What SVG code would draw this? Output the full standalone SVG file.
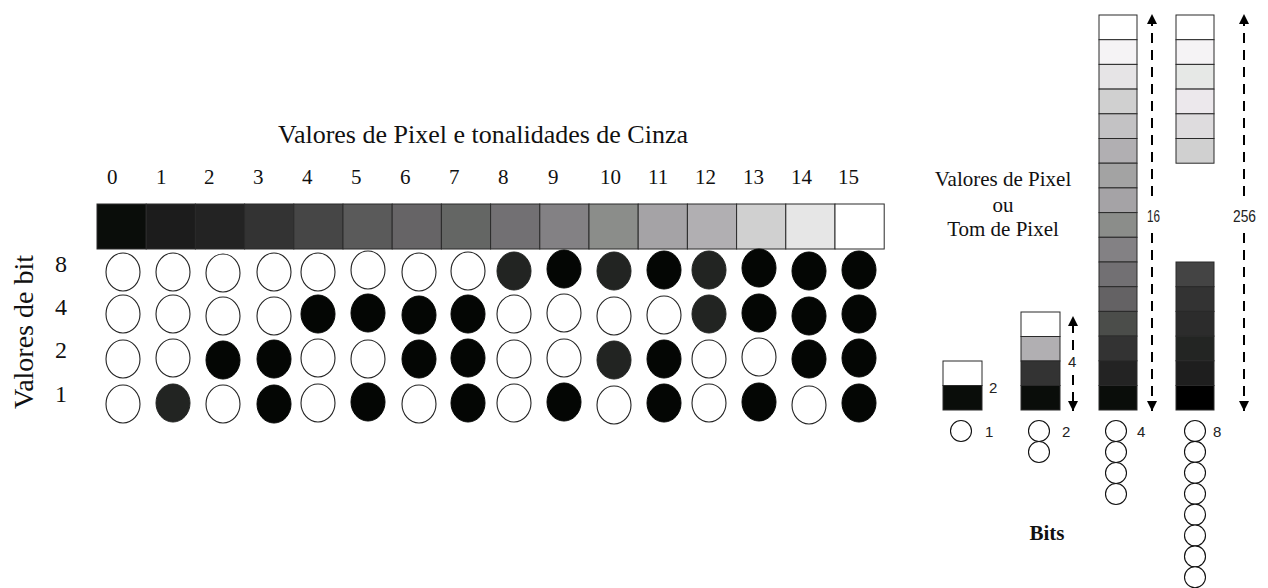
<svg xmlns="http://www.w3.org/2000/svg" width="1268" height="588" viewBox="0 0 1268 588">
<style>
.serif{font-family:"Liberation Serif","Times New Roman",serif;fill:#111}
.sans{font-family:"Liberation Sans",Arial,sans-serif;fill:#222;font-size:15px}
.cell{stroke:#2a2a2a;stroke-width:1}
.o{fill:#fff;stroke:#222;stroke-width:1.1}
.b{fill:#040604;stroke:#040604;stroke-width:1}
.g{fill:#222422;stroke:#222422;stroke-width:1}
.bit{fill:#fff;stroke:#111;stroke-width:1.1}
.dash{stroke:#000;stroke-width:2;stroke-dasharray:10 7;fill:none}
</style>
<defs>
<marker id="ah" markerUnits="userSpaceOnUse" markerWidth="10" markerHeight="10" refX="10" refY="5" orient="auto">
<path d="M0,0 L10,5 L0,10 z" fill="#000"/>
</marker>
</defs>
<rect width="1268" height="588" fill="#fff"/>

<g id="title">
<text class="serif" x="278" y="143" font-size="26" textLength="410" lengthAdjust="spacingAndGlyphs">Valores de Pixel e tonalidades de Cinza</text>
</g>

<g id="pixel-values" class="serif" font-size="21">
<text x="107" y="184">0</text>
<text x="156" y="184">1</text>
<text x="204" y="184">2</text>
<text x="253" y="184">3</text>
<text x="302" y="184">4</text>
<text x="351" y="184">5</text>
<text x="400" y="184">6</text>
<text x="449" y="184">7</text>
<text x="498" y="184">8</text>
<text x="548" y="184">9</text>
<text x="600" y="184">10</text>
<text x="648" y="184">11</text>
<text x="695" y="184">12</text>
<text x="743" y="184">13</text>
<text x="791" y="184">14</text>
<text x="838" y="184">15</text>
</g>

<g id="gray-bar" class="cell">
<rect x="97" y="204" width="49.2" height="45" fill="#0a0d0a"/>
<rect x="146.2" y="204" width="49.2" height="45" fill="#1c1c1c"/>
<rect x="195.4" y="204" width="49.2" height="45" fill="#232323"/>
<rect x="244.6" y="204" width="49.2" height="45" fill="#333333"/>
<rect x="293.8" y="204" width="49.2" height="45" fill="#464646"/>
<rect x="343" y="204" width="49.2" height="45" fill="#5a5a5a"/>
<rect x="392.2" y="204" width="49.2" height="45" fill="#666466"/>
<rect x="441.4" y="204" width="49.2" height="45" fill="#646664"/>
<rect x="490.6" y="204" width="49.2" height="45" fill="#727073"/>
<rect x="539.8" y="204" width="49.2" height="45" fill="#838184"/>
<rect x="589" y="204" width="49.2" height="45" fill="#8b8d8a"/>
<rect x="638.2" y="204" width="49.2" height="45" fill="#a5a3a6"/>
<rect x="687.4" y="204" width="49.2" height="45" fill="#b1afb2"/>
<rect x="736.6" y="204" width="49.2" height="45" fill="#d0d0d0"/>
<rect x="785.8" y="204" width="49.2" height="45" fill="#e6e6e6"/>
<rect x="835" y="204" width="49.2" height="45" fill="#ffffff"/>
</g>

<g id="axis-label">
<text class="serif" font-size="28" text-anchor="middle" transform="translate(33,332) rotate(-90)">Valores de bit</text>
</g>

<g id="bit-values" class="serif" font-size="24">
<text x="55" y="272">8</text>
<text x="55" y="315">4</text>
<text x="55" y="358">2</text>
<text x="55" y="402">1</text>
</g>

<g id="bit-grid">
<!-- row 8 -->
<ellipse class="o" cx="123" cy="272" rx="17" ry="19"/>
<ellipse class="o" cx="173" cy="272" rx="17" ry="19"/>
<ellipse class="o" cx="223" cy="273" rx="17" ry="19"/>
<ellipse class="o" cx="274" cy="272" rx="17" ry="19"/>
<ellipse class="o" cx="318" cy="272" rx="17" ry="19"/>
<ellipse class="o" cx="368" cy="270" rx="17" ry="19"/>
<ellipse class="o" cx="419" cy="272" rx="17" ry="19"/>
<ellipse class="o" cx="468" cy="271" rx="17" ry="19"/>
<ellipse class="g" cx="514" cy="271" rx="17" ry="19"/>
<ellipse class="b" cx="564" cy="269" rx="17" ry="19"/>
<ellipse class="g" cx="614" cy="271" rx="17" ry="19"/>
<ellipse class="b" cx="664" cy="270" rx="17" ry="19"/>
<ellipse class="g" cx="709" cy="270" rx="17" ry="19"/>
<ellipse class="b" cx="759" cy="268" rx="17" ry="19"/>
<ellipse class="b" cx="809" cy="271" rx="17" ry="19"/>
<ellipse class="b" cx="859" cy="270" rx="17" ry="19"/>
<!-- row 4 -->
<ellipse class="o" cx="123" cy="314" rx="17" ry="19"/>
<ellipse class="o" cx="173" cy="314" rx="17" ry="19"/>
<ellipse class="o" cx="223" cy="316" rx="17" ry="19"/>
<ellipse class="o" cx="274" cy="316" rx="17" ry="19"/>
<ellipse class="b" cx="318" cy="314" rx="17" ry="19"/>
<ellipse class="b" cx="368" cy="313" rx="17" ry="19"/>
<ellipse class="b" cx="419" cy="315" rx="17" ry="19"/>
<ellipse class="b" cx="468" cy="314" rx="17" ry="19"/>
<ellipse class="o" cx="514" cy="314" rx="17" ry="19"/>
<ellipse class="o" cx="564" cy="313" rx="17" ry="19"/>
<ellipse class="o" cx="614" cy="316" rx="17" ry="19"/>
<ellipse class="o" cx="664" cy="315" rx="17" ry="19"/>
<ellipse class="g" cx="709" cy="314" rx="17" ry="19"/>
<ellipse class="b" cx="759" cy="313" rx="17" ry="19"/>
<ellipse class="b" cx="809" cy="316" rx="17" ry="19"/>
<ellipse class="b" cx="859" cy="314" rx="17" ry="19"/>
<!-- row 2 -->
<ellipse class="o" cx="123" cy="359" rx="17" ry="19"/>
<ellipse class="o" cx="173" cy="358" rx="17" ry="19"/>
<ellipse class="b" cx="223" cy="360" rx="17" ry="19"/>
<ellipse class="b" cx="274" cy="359" rx="17" ry="19"/>
<ellipse class="o" cx="318" cy="358" rx="17" ry="19"/>
<ellipse class="o" cx="368" cy="359" rx="17" ry="19"/>
<ellipse class="b" cx="419" cy="359" rx="17" ry="19"/>
<ellipse class="b" cx="468" cy="358" rx="17" ry="19"/>
<ellipse class="o" cx="514" cy="359" rx="17" ry="19"/>
<ellipse class="o" cx="564" cy="358" rx="17" ry="19"/>
<ellipse class="g" cx="614" cy="360" rx="17" ry="19"/>
<ellipse class="b" cx="664" cy="359" rx="17" ry="19"/>
<ellipse class="o" cx="709" cy="359" rx="17" ry="19"/>
<ellipse class="o" cx="759" cy="357" rx="17" ry="19"/>
<ellipse class="b" cx="809" cy="359" rx="17" ry="19"/>
<ellipse class="b" cx="859" cy="358" rx="17" ry="19"/>
<!-- row 1 -->
<ellipse class="o" cx="123" cy="404" rx="17" ry="19"/>
<ellipse class="g" cx="173" cy="403" rx="17" ry="19"/>
<ellipse class="o" cx="223" cy="404" rx="17" ry="19"/>
<ellipse class="b" cx="274" cy="404" rx="17" ry="19"/>
<ellipse class="o" cx="318" cy="403" rx="17" ry="19"/>
<ellipse class="b" cx="368" cy="402" rx="17" ry="19"/>
<ellipse class="o" cx="419" cy="404" rx="17" ry="19"/>
<ellipse class="b" cx="468" cy="403" rx="17" ry="19"/>
<ellipse class="o" cx="514" cy="403" rx="17" ry="19"/>
<ellipse class="b" cx="564" cy="402" rx="17" ry="19"/>
<ellipse class="o" cx="614" cy="405" rx="17" ry="19"/>
<ellipse class="b" cx="664" cy="403" rx="17" ry="19"/>
<ellipse class="o" cx="709" cy="403" rx="17" ry="19"/>
<ellipse class="b" cx="759" cy="402" rx="17" ry="19"/>
<ellipse class="o" cx="809" cy="405" rx="17" ry="19"/>
<ellipse class="b" cx="859" cy="403" rx="17" ry="19"/>
</g>

<g id="pixel-tone-label" class="serif" font-size="21" text-anchor="middle">
<text x="1003" y="186">Valores de Pixel</text>
<text x="1003" y="212">ou</text>
<text x="1003" y="236">Tom de Pixel</text>
</g>

<g id="col-2" class="cell">
<rect x="943" y="361" width="39" height="24.5" fill="#ffffff"/>
<rect x="943" y="385.5" width="39" height="24.5" fill="#0a0d0a"/>
</g>

<g id="col-4" class="cell">
<rect x="1021" y="312" width="39" height="24.5" fill="#ffffff"/>
<rect x="1021" y="336.5" width="39" height="24.5" fill="#b1afb2"/>
<rect x="1021" y="361" width="39" height="24.5" fill="#333333"/>
<rect x="1021" y="385.5" width="39" height="24.5" fill="#0a0d0a"/>
</g>

<g id="col-16" class="cell">
<rect x="1099" y="15" width="38" height="24.7" fill="#ffffff"/>
<rect x="1099" y="39.7" width="38" height="24.7" fill="#f5f3f5"/>
<rect x="1099" y="64.4" width="38" height="24.7" fill="#e6e4e6"/>
<rect x="1099" y="89.1" width="38" height="24.7" fill="#d0d0d0"/>
<rect x="1099" y="113.8" width="38" height="24.7" fill="#c3c2c4"/>
<rect x="1099" y="138.5" width="38" height="24.7" fill="#b1afb2"/>
<rect x="1099" y="163.2" width="38" height="24.7" fill="#a3a3a3"/>
<rect x="1099" y="187.9" width="38" height="24.7" fill="#a5a3a6"/>
<rect x="1099" y="212.6" width="38" height="24.7" fill="#8b8d8a"/>
<rect x="1099" y="237.3" width="38" height="24.7" fill="#838184"/>
<rect x="1099" y="262" width="38" height="24.7" fill="#727073"/>
<rect x="1099" y="286.7" width="38" height="24.7" fill="#646264"/>
<rect x="1099" y="311.4" width="38" height="24.7" fill="#4b4d4a"/>
<rect x="1099" y="336.1" width="38" height="24.7" fill="#333333"/>
<rect x="1099" y="360.8" width="38" height="24.7" fill="#232323"/>
<rect x="1099" y="385.5" width="38" height="24.5" fill="#0a0d0a"/>
</g>

<g id="col-256" class="cell">
<rect x="1176" y="15" width="38" height="24.7" fill="#ffffff"/>
<rect x="1176" y="39.7" width="38" height="24.7" fill="#f5f3f5"/>
<rect x="1176" y="64.4" width="38" height="24.7" fill="#e6e8e6"/>
<rect x="1176" y="89.1" width="38" height="24.7" fill="#ece8ec"/>
<rect x="1176" y="113.8" width="38" height="24.7" fill="#dedcde"/>
<rect x="1176" y="138.5" width="38" height="24.7" fill="#d0d0d0"/>
<rect x="1176" y="262" width="38" height="24.7" fill="#444444"/>
<rect x="1176" y="286.7" width="38" height="24.7" fill="#333333"/>
<rect x="1176" y="311.4" width="38" height="24.7" fill="#2c2c2c"/>
<rect x="1176" y="336.1" width="38" height="24.7" fill="#232523"/>
<rect x="1176" y="360.8" width="38" height="24.7" fill="#1e1e1e"/>
<rect x="1176" y="385.5" width="38" height="24.5" fill="#000000"/>
</g>

<g id="connectors">
<line class="dash" x1="1073" y1="350" x2="1073" y2="316" marker-end="url(#ah)"/>
<line class="dash" x1="1073" y1="375" x2="1073" y2="411" marker-end="url(#ah)"/>
<line class="dash" x1="1152" y1="196" x2="1152" y2="14" marker-end="url(#ah)"/>
<line class="dash" x1="1152" y1="233" x2="1152" y2="411" marker-end="url(#ah)"/>
<line class="dash" x1="1244" y1="196" x2="1244" y2="14" marker-end="url(#ah)"/>
<line class="dash" x1="1244" y1="233" x2="1244" y2="411" marker-end="url(#ah)"/>
</g>

<g id="range-labels" class="sans">
<text x="989" y="393">2</text>
<text x="1068" y="367">4</text>
<text x="1147" y="222" font-size="16" textLength="13" lengthAdjust="spacingAndGlyphs">16</text>
<text x="1233" y="222" font-size="16" textLength="23" lengthAdjust="spacingAndGlyphs">256</text>
</g>

<g id="bits-1">
<circle class="bit" cx="961" cy="431" r="10.5"/>
<text class="sans" x="985" y="437">1</text>
</g>
<g id="bits-2">
<circle class="bit" cx="1039" cy="431" r="10.5"/>
<circle class="bit" cx="1039" cy="452" r="10.5"/>
<text class="sans" x="1062" y="437">2</text>
</g>
<g id="bits-4">
<circle class="bit" cx="1116" cy="431" r="10.5"/>
<circle class="bit" cx="1116" cy="452" r="10.5"/>
<circle class="bit" cx="1116" cy="473" r="10.5"/>
<circle class="bit" cx="1116" cy="494" r="10.5"/>
<text class="sans" x="1137" y="437">4</text>
</g>
<g id="bits-8">
<circle class="bit" cx="1195" cy="431" r="10.5"/>
<circle class="bit" cx="1195" cy="451.9" r="10.5"/>
<circle class="bit" cx="1195" cy="472.8" r="10.5"/>
<circle class="bit" cx="1195" cy="493.7" r="10.5"/>
<circle class="bit" cx="1195" cy="514.6" r="10.5"/>
<circle class="bit" cx="1195" cy="535.5" r="10.5"/>
<circle class="bit" cx="1195" cy="556.4" r="10.5"/>
<circle class="bit" cx="1195" cy="577.3" r="10.5"/>
<text class="sans" x="1213" y="437">8</text>
</g>

<g id="bits-label">
<text class="serif" x="1047" y="540" font-size="21" font-weight="bold" text-anchor="middle">Bits</text>
</g>
</svg>
